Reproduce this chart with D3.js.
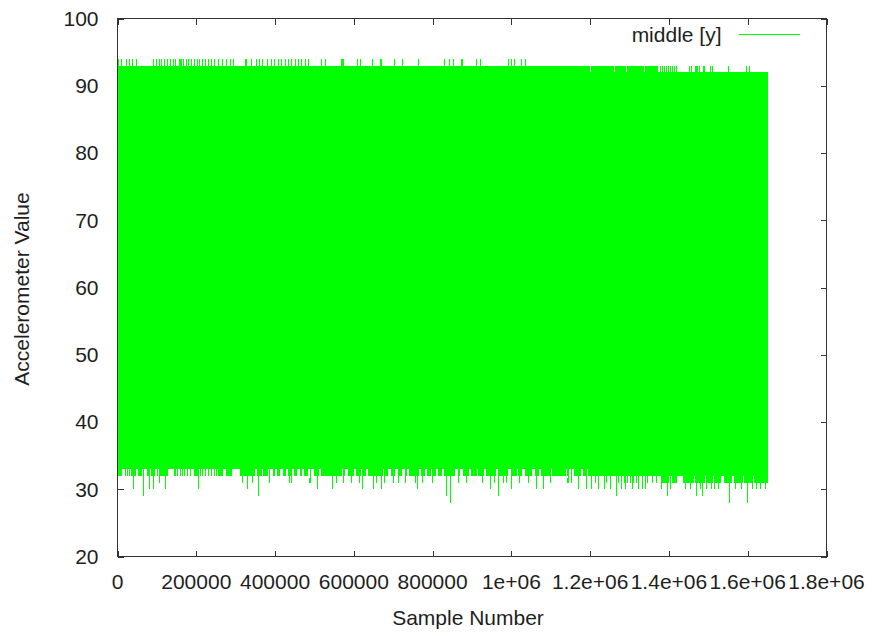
<!DOCTYPE html>
<html>
<head>
<meta charset="utf-8">
<script src="https://cdn.jsdelivr.net/npm/d3@7"></script>
<style>
  html, body { margin: 0; padding: 0; background: #ffffff; }
  svg { display: block; }
  text { font-family: "Liberation Sans", Arial, Helvetica, sans-serif; fill: #1e1e1e; }
</style>
</head>
<body>
<svg id="chart" width="873" height="636"></svg>
<script>
// ---- data -------------------------------------------------------------
// Accelerometer trace "middle [y]": about 1.65 million samples. The trace is
// stored as its envelope per stretch of samples (positions in thousands).
const sampleCountK = 1652;

const xTickValues = [0, 200000, 400000, 600000, 800000, 1000000, 1200000, 1400000, 1600000, 1800000];
const xTickLabels = ["0", "200000", "400000", "600000", "800000", "1e+06", "1.2e+06", "1.4e+06", "1.6e+06", "1.8e+06"];
const yTickValues = [20, 30, 40, 50, 60, 70, 80, 90, 100];
const yTickLabels = ["20", "30", "40", "50", "60", "70", "80", "90", "100"];

const seriesName = "middle [y]";

// upper envelope: usual ceiling per stretch [fromK, toK, value]
const upperBase = [[0, 1200, 93], [1200, 1652, 92]];
// places where the ceiling rises one step (single positions or [fromK, toK])
const upperPeaks = [
  3, 11, 23, 30, 39, 48,
  91, 98, 105, 112, 119, 126, 133, 141, 147, 155, 162, 169, 175, 182, 189, 196, 203, 209, 216,
  223, 231, 238, 247, 255, 265, 276, 285, 293,
  327, 340, 353, 361, 369, 381, 391, 399, 408, 416, 425, 433, 442, 450, 458, 467, 477, 484,
  518, 528, [569, 574], 609, 615, 647, [669, 671], 704, 723, 764,
  830, 844, 854, [874, 876], 912, 922, 994, 1001, 1009, 1025, 1035,
  [1204, 1230], [1234, 1258], [1264, 1289], [1293, 1323], [1327, 1335], [1340, 1353], [1357, 1370],
  1378, 1383, 1388, 1393, 1398, 1403, 1409, 1414, 1419,
  1450, 1456, 1467, 1472, 1478, 1488, 1492, 1505, 1512, 1550, 1595, 1604
];

// lower envelope: usual floor per stretch [fromK, toK, value]
const lowerBase = [[0, 1220, 33], [1220, 1652, 32]];
// places where the floor drops one step below the usual floor
const lowerDips = [
  [0, 11], 20, 25, 30, [35, 43], 47, [53, 62], 67, [77, 81], [86, 94], 101, [107, 115], [119, 126],
  [143, 147], 152, 158, 166, 172, 179, 186, [196, 204], 211, 217, 223, 230, 238, 245, 251, [257, 265],
  [276, 285], 289, [310, 348], [357, 365], [372, 381], 386, [395, 399], [406, 412], [420, 426],
  [433, 442], [448, 454], [463, 467], [474, 482], [488, 492], [501, 511], [518, 552], [552, 560],
  [564, 569], [573, 577], [585, 598], [607, 615], [624, 628], [636, 645], [649, 674], [679, 687],
  [696, 704], [713, 721], [730, 734], [742, 763], [772, 779], [785, 793], [798, 806], [814, 823],
  [831, 857], [865, 869], [878, 891], [899, 912], [916, 929], [937, 958], [967, 992], [1001, 1014],
  [1018, 1026], [1035, 1052], [1060, 1069], [1077, 1098], [1103, 1136], [1141, 1145], 1153,
  [1162, 1175], [1183, 1192], [1196, 1200], [1204, 1220],
  1236, 1242, 1251, 1272, 1287, 1293, 1302, 1312, 1319, 1347, 1358, 1368,
  [1380, 1398], [1408, 1419], [1436, 1462], [1467, 1490], [1495, 1510], [1515, 1530], [1541, 1558],
  [1566, 1586], [1592, 1612], [1617, 1637], [1642, 1651]
];
// deeper single drops [positionK, value]
const lowerSpikes = [
  [41, 30], [66, 29], [82, 30], [91, 30], [106, 31], [122, 30], [207, 30], [316, 31], [330, 30],
  [343, 31], [358, 29], [387, 31], [437, 31], [442, 31], [489, 31], [508, 30], [546, 30], [557, 31],
  [573, 31], [594, 31], [613, 31], [620, 30], [649, 30], [658, 31], [670, 30], [679, 31], [700, 31],
  [714, 31], [731, 31], [755, 31], [761, 30], [774, 31], [798, 31], [837, 29], [847, 28], [865, 31],
  [885, 31], [925, 31], [946, 30], [957, 31], [967, 29], [979, 31], [989, 31], [1001, 30], [1022, 31],
  [1043, 31], [1064, 30], [1081, 30], [1098, 31], [1143, 31], [1153, 31], [1172, 30], [1190, 30],
  [1204, 30], [1213, 31], [1220, 30], [1237, 30], [1251, 30], [1265, 29], [1279, 30], [1289, 30],
  [1306, 30], [1324, 30], [1333, 30], [1340, 30], [1382, 30], [1395, 29], [1403, 30], [1442, 30],
  [1454, 30], [1469, 29], [1480, 30], [1486, 29], [1497, 30], [1508, 30], [1516, 30], [1526, 30],
  [1553, 28], [1569, 30], [1584, 30], [1599, 28], [1611, 30], [1621, 30], [1632, 30], [1645, 30]
];

// ---- layout -----------------------------------------------------------
const W = 873, H = 636;
const plot = { left: 117.5, right: 826.5, top: 18.5, bottom: 556.5 };
const tickLen = 6;
const green = "#00ff00";

const svg = d3.select("#chart");

const x = d3.scaleLinear().domain([0, 1800000]).range([plot.left, plot.right]);
const y = d3.scaleLinear().domain([20, 100]).range([plot.bottom, plot.top]);

// ---- envelope per bin -------------------------------------------------
const binK = 2.5;
const nBins = Math.ceil(sampleCountK / binK);
const baseAt = (list, k) => {
  for (const [a, b, v] of list) if (k >= a && k < b) return v;
  return list[list.length - 1][2];
};
const hi = [], lo = [];
for (let i = 0; i < nBins; i++) {
  const c = (i + 0.5) * binK;
  hi.push(baseAt(upperBase, c));
  lo.push(baseAt(lowerBase, c));
}
const binRange = item => {
  const [a, b] = Array.isArray(item) ? item : [item, item];
  return [Math.floor(a / binK), Math.min(nBins - 1, Math.floor(b / binK))];
};
upperPeaks.forEach(item => {
  const [i0, i1] = binRange(item);
  for (let i = i0; i <= i1; i++) hi[i] = Math.max(hi[i], baseAt(upperBase, (i + 0.5) * binK) + 1);
});
lowerDips.forEach(item => {
  const [i0, i1] = binRange(item);
  for (let i = i0; i <= i1; i++) lo[i] = Math.min(lo[i], baseAt(lowerBase, (i + 0.5) * binK) - 1);
});
lowerSpikes.forEach(([k, v]) => {
  const i = Math.min(nBins - 1, Math.floor(k / binK));
  lo[i] = Math.min(lo[i], v);
});

// the trace swings between ceiling and floor within every bin
const tracePoints = [];
for (let i = 0; i < nBins; i++) {
  const s = (i + 0.5) * binK * 1000;
  tracePoints.push([s, hi[i]], [s, lo[i]]);
}

// ---- ticks (drawn beneath the trace) ----------------------------------
const ticks = svg.append("g").attr("stroke", "#333").attr("stroke-width", 1).attr("shape-rendering", "crispEdges");
xTickValues.forEach(v => {
  const px = Math.round(x(v)) + 0.5;
  ticks.append("line").attr("x1", px).attr("x2", px).attr("y1", plot.bottom).attr("y2", plot.bottom - tickLen);
  ticks.append("line").attr("x1", px).attr("x2", px).attr("y1", plot.top).attr("y2", plot.top + tickLen);
});
yTickValues.forEach(v => {
  const py = Math.round(y(v)) + 0.5;
  ticks.append("line").attr("x1", plot.left).attr("x2", plot.left + tickLen).attr("y1", py).attr("y2", py);
  ticks.append("line").attr("x1", plot.right).attr("x2", plot.right - tickLen).attr("y1", py).attr("y2", py);
});

// ---- trace ------------------------------------------------------------
const line = d3.line().x(d => x(d[0])).y(d => y(d[1]));
svg.append("path")
  .datum(tracePoints)
  .attr("d", line)
  .attr("fill", "none")
  .attr("stroke", green)
  .attr("stroke-width", 1)
  .attr("shape-rendering", "crispEdges");

// ---- border -----------------------------------------------------------
svg.append("rect")
  .attr("x", plot.left).attr("y", plot.top)
  .attr("width", plot.right - plot.left).attr("height", plot.bottom - plot.top)
  .attr("fill", "none").attr("stroke", "#333").attr("stroke-width", 1)
  .attr("shape-rendering", "crispEdges");

// ---- tick labels ------------------------------------------------------
const fontSize = 21;
svg.append("g").selectAll("text").data(xTickValues).join("text")
  .attr("x", d => x(d))
  .attr("y", 588.5)
  .attr("text-anchor", "middle")
  .attr("font-size", fontSize)
  .text((d, i) => xTickLabels[i]);

svg.append("g").selectAll("text").data(yTickValues).join("text")
  .attr("x", 98.5)
  .attr("y", d => y(d) + 7.4)
  .attr("text-anchor", "end")
  .attr("font-size", fontSize)
  .text((d, i) => yTickLabels[i]);

// ---- axis titles ------------------------------------------------------
svg.append("text")
  .attr("x", 468).attr("y", 625)
  .attr("text-anchor", "middle")
  .attr("font-size", fontSize)
  .text("Sample Number");

svg.append("text")
  .attr("transform", "translate(28.5,289) rotate(-90)")
  .attr("text-anchor", "middle")
  .attr("font-size", fontSize)
  .text("Accelerometer Value");

// ---- legend -----------------------------------------------------------
svg.append("text")
  .attr("x", 721.5).attr("y", 41.5)
  .attr("text-anchor", "end")
  .attr("font-size", fontSize)
  .text(seriesName);
svg.append("line")
  .attr("x1", 739).attr("x2", 800)
  .attr("y1", 34.5).attr("y2", 34.5)
  .attr("stroke", green).attr("stroke-width", 1);
</script>
</body>
</html>
